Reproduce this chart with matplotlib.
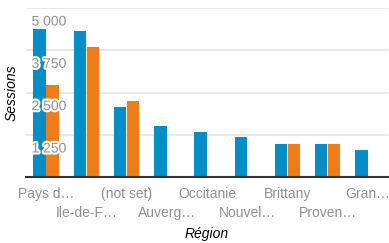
import matplotlib
matplotlib.use('Agg')
import numpy as np
import matplotlib.pyplot as plt
import matplotlib.patheffects as pe
from matplotlib.transforms import ScaledTranslation

regions = ['Pays d…', 'Ile-de-F…', '(not set)', 'Auverg…', 'Occitanie',
           'Nouvel…', 'Brittany', 'Proven…', 'Gran…']
sessions_a = [4380, 4320, 2080, 1515, 1340, 1190, 985, 985, 805]
sessions_b = [2725, 3850, 2265, 0, 0, 0, 985, 985, 0]
y_ticks = [1250, 2500, 3750, 5000]
y_tick_labels = ['1 250', '2 500', '3 750', '5 000']

BLUE = '#058dc7'
ORANGE = '#ed7e17'
GRAY = '#8f8f8f'

plt.rcParams['font.family'] = ['Liberation Sans', 'DejaVu Sans']

fig = plt.figure(figsize=(3.89, 2.43), dpi=100)
ax = fig.add_axes([26 / 389, 1 - 177.3 / 243, 362 / 389, 169.3 / 243])

x = np.arange(len(regions))
w = 0.31
ax.bar(x - 0.16, sessions_a, width=w, color=BLUE, zorder=2)
ax.bar(x + 0.16, sessions_b, width=w, color=ORANGE, zorder=2)

ax.set_xlim(-0.5, len(regions) - 0.5)
ax.set_ylim(0, 5000)

# grid
for v in y_ticks:
    ax.axhline(v, color='#e6e6e6', lw=1.3, zorder=1)

for s in ['top', 'right', 'left']:
    ax.spines[s].set_visible(False)
ax.spines['bottom'].set_color('#333333')
ax.spines['bottom'].set_linewidth(1.5)
ax.spines['bottom'].set_zorder(4)

# y tick labels inside the plot, below the gridline, with white halo
ax.set_yticks(y_ticks, y_tick_labels)
ax.tick_params(axis='y', length=0, pad=-4, labelsize=10, labelcolor=GRAY)
ax.yaxis.set_zorder(5)
shift = ScaledTranslation(0, -0.12, fig.dpi_scale_trans)
for lbl in ax.get_yticklabels():
    lbl.set_ha('left')
    lbl.set_transform(lbl.get_transform() + shift)
    lbl.set_path_effects([pe.withStroke(linewidth=3, foreground='white')])

# staggered x labels: even on first row, odd on second
ax.set_xticks(x[::2], regions[::2])
ax.set_xticks(x[1::2], regions[1::2], minor=True)
ax.tick_params(axis='x', which='major', length=0, pad=7, labelsize=10, labelcolor=GRAY)
ax.tick_params(axis='x', which='minor', length=0, pad=21, labelsize=10, labelcolor=GRAY)

ax.set_xlabel('Région', fontsize=10, style='italic', va='center')
ax.xaxis.set_label_coords(0.5, (177.3 - 234) / 169.3)
ax.set_ylabel('Sessions', fontsize=10, style='italic', va='center', ha='center')
ax.yaxis.set_label_coords(-14 / 362, 0.5)

fig.savefig('out.png', dpi=100)
